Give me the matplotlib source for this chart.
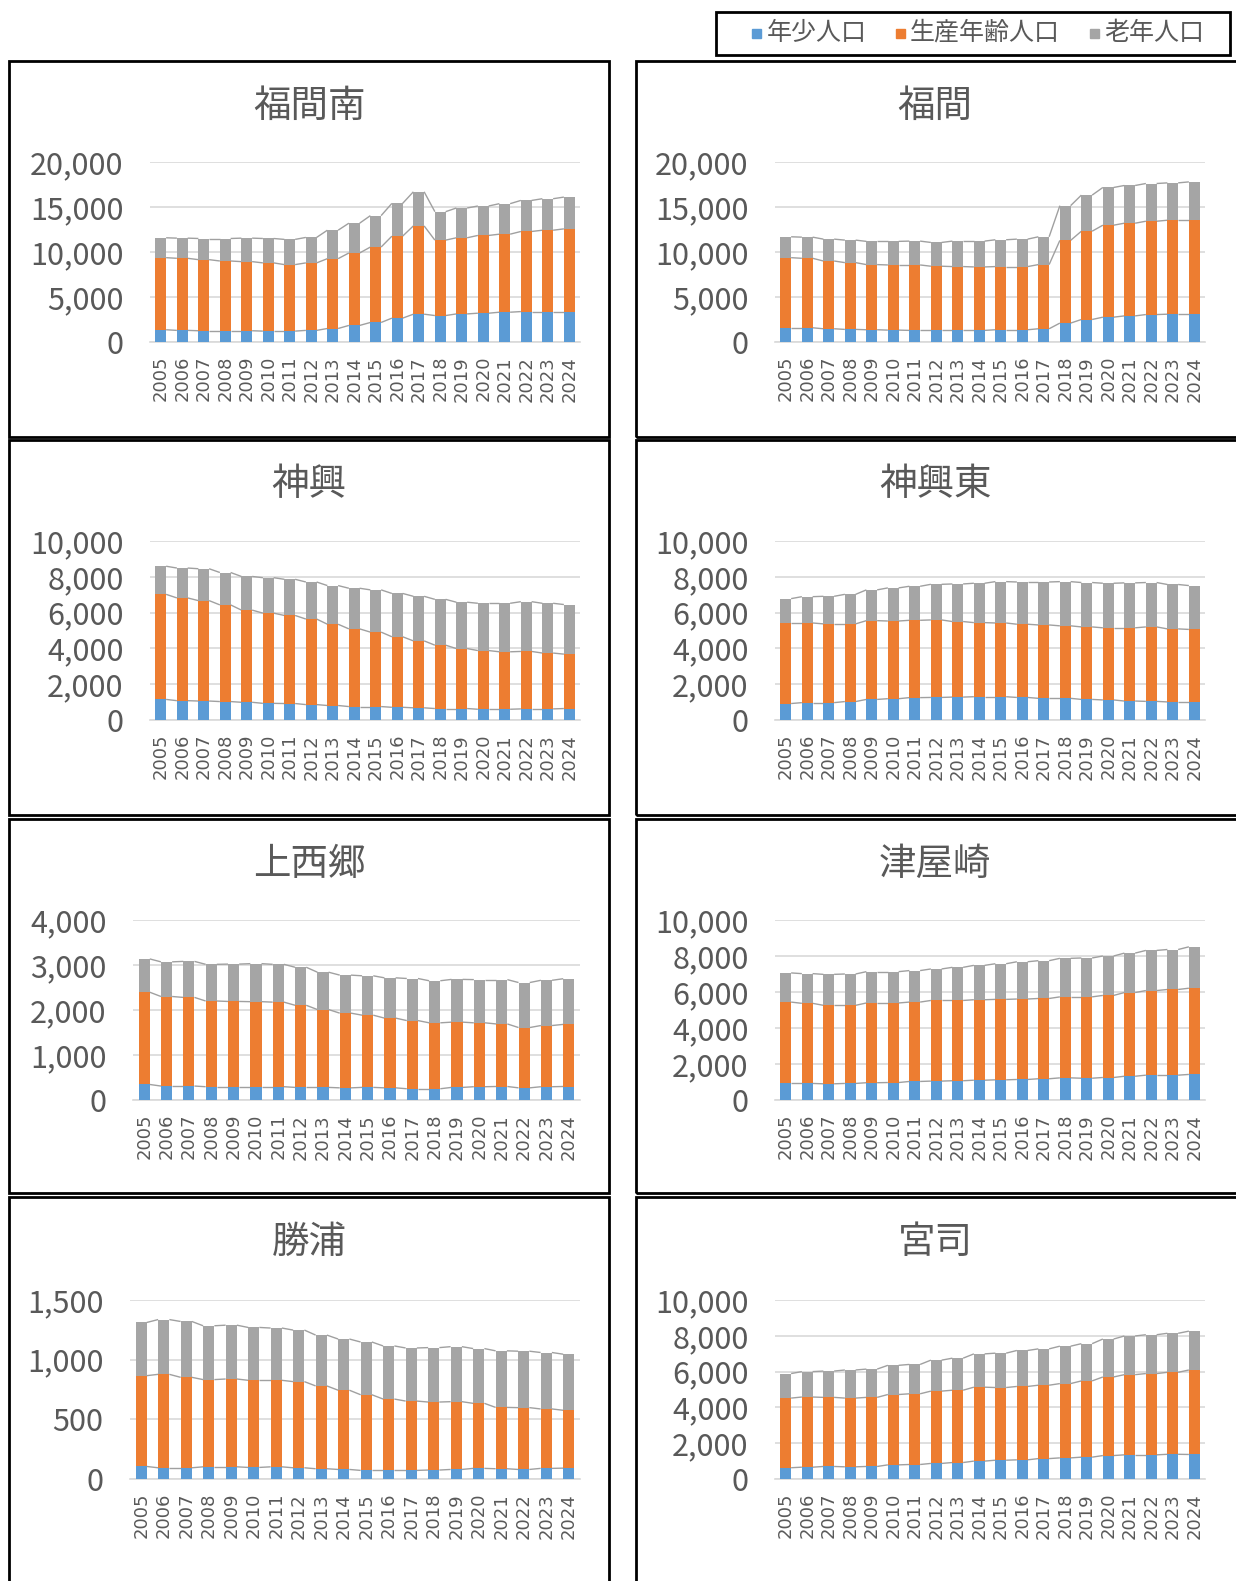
import matplotlib
matplotlib.use("Agg")
import matplotlib.pyplot as plt
from matplotlib.patches import Rectangle
from matplotlib.ticker import FuncFormatter, MultipleLocator
import numpy as np

plt.rcParams['font.family'] = ['Noto Sans CJK JP', 'DejaVu Sans']

years = [str(y) for y in range(2005, 2025)]
series_names = ["年少人口", "生産年齢人口", "老年人口"]
colors = ["#5B9BD5", "#ED7D31", "#A5A5A5"]

# 福間南
fukumaminami_youth = [1360, 1290, 1250, 1250, 1250, 1210, 1210, 1290, 1500, 1840, 2170, 2650, 3090, 2940, 3120, 3200, 3310, 3380, 3380, 3380]
fukumaminami_working = [8010, 8010, 7900, 7750, 7680, 7580, 7390, 7500, 7760, 8050, 8380, 9110, 9810, 8380, 8460, 8640, 8670, 8900, 9040, 9190]
fukumaminami_elderly = [2210, 2240, 2350, 2500, 2610, 2710, 2800, 2830, 3160, 3310, 3490, 3640, 3790, 3160, 3310, 3270, 3390, 3450, 3500, 3530]
# 福間
fukuma_youth = [1580, 1580, 1470, 1400, 1360, 1320, 1290, 1290, 1290, 1290, 1360, 1360, 1470, 2100, 2500, 2760, 2900, 3050, 3090, 3090]
fukuma_working = [7790, 7720, 7530, 7420, 7240, 7240, 7270, 7130, 7090, 7050, 7020, 7020, 7130, 9190, 9810, 10220, 10300, 10370, 10440, 10440]
fukuma_elderly = [2320, 2350, 2430, 2500, 2580, 2620, 2650, 2640, 2830, 2870, 2980, 3050, 3090, 3860, 4010, 4190, 4190, 4190, 4150, 4260]
# 神興
jinko_youth = [1150, 1080, 1060, 1030, 990, 930, 920, 860, 810, 750, 750, 710, 680, 640, 640, 600, 600, 620, 620, 640]
jinko_working = [5870, 5740, 5610, 5400, 5150, 5040, 4920, 4780, 4540, 4340, 4160, 3940, 3740, 3540, 3350, 3280, 3210, 3210, 3120, 3040]
jinko_elderly = [1570, 1670, 1780, 1810, 1880, 1980, 2020, 2070, 2160, 2270, 2360, 2420, 2490, 2560, 2590, 2640, 2710, 2780, 2780, 2770]
# 神興東
jinkohigashi_youth = [920, 970, 970, 1030, 1150, 1190, 1250, 1260, 1280, 1300, 1300, 1260, 1210, 1210, 1150, 1120, 1060, 1040, 1010, 1010]
jinkohigashi_working = [4500, 4450, 4400, 4340, 4400, 4340, 4320, 4330, 4220, 4140, 4120, 4090, 4100, 4050, 4050, 4030, 4090, 4160, 4080, 4050]
jinkohigashi_elderly = [1360, 1470, 1540, 1650, 1720, 1850, 1900, 1990, 2100, 2200, 2310, 2360, 2400, 2470, 2480, 2490, 2510, 2480, 2480, 2450]
# 上西郷
kamisaigo_youth = [345, 310, 310, 295, 295, 295, 295, 280, 280, 270, 280, 270, 250, 250, 280, 295, 300, 270, 295, 300]
kamisaigo_working = [2050, 1990, 1970, 1905, 1895, 1890, 1880, 1825, 1730, 1660, 1605, 1550, 1515, 1465, 1450, 1420, 1390, 1340, 1360, 1380]
kamisaigo_elderly = [740, 770, 800, 815, 830, 845, 840, 845, 830, 845, 875, 895, 935, 935, 950, 960, 985, 1000, 1005, 1015]
# 津屋崎
tsuyazaki_youth = [920, 920, 900, 920, 960, 970, 1030, 1050, 1070, 1100, 1120, 1140, 1180, 1230, 1210, 1250, 1320, 1380, 1380, 1420]
tsuyazaki_working = [4520, 4450, 4360, 4340, 4430, 4420, 4410, 4480, 4460, 4470, 4470, 4470, 4460, 4500, 4520, 4560, 4650, 4700, 4760, 4790]
tsuyazaki_elderly = [1620, 1650, 1720, 1740, 1740, 1740, 1750, 1750, 1840, 1910, 1980, 2070, 2100, 2140, 2160, 2190, 2190, 2230, 2220, 2300]
# 勝浦
katsuura_youth = [105, 94, 94, 102, 102, 97, 102, 94, 86, 80, 72, 72, 72, 75, 80, 89, 86, 80, 89, 91]
katsuura_working = [761, 783, 758, 731, 736, 730, 725, 722, 694, 664, 634, 598, 581, 570, 568, 545, 514, 518, 498, 485]
katsuura_elderly = [446, 459, 468, 451, 451, 443, 438, 432, 426, 429, 442, 445, 445, 456, 461, 459, 474, 473, 473, 470]
# 宮司
miyaji_youth = [630, 660, 700, 680, 700, 790, 810, 870, 920, 1000, 1050, 1070, 1140, 1180, 1220, 1310, 1350, 1350, 1380, 1370]
miyaji_working = [3890, 3920, 3860, 3840, 3860, 3930, 3950, 4040, 4040, 4130, 4060, 4100, 4100, 4150, 4260, 4390, 4480, 4540, 4580, 4720]
miyaji_elderly = [1370, 1420, 1470, 1570, 1580, 1630, 1640, 1730, 1790, 1860, 1920, 2010, 2030, 2090, 2080, 2120, 2160, 2170, 2180, 2170]

panels = [
    ("福間南", fukumaminami_youth, fukumaminami_working, fukumaminami_elderly, 20000, 5000),
    ("福間", fukuma_youth, fukuma_working, fukuma_elderly, 20000, 5000),
    ("神興", jinko_youth, jinko_working, jinko_elderly, 10000, 2000),
    ("神興東", jinkohigashi_youth, jinkohigashi_working, jinkohigashi_elderly, 10000, 2000),
    ("上西郷", kamisaigo_youth, kamisaigo_working, kamisaigo_elderly, 4000, 1000),
    ("津屋崎", tsuyazaki_youth, tsuyazaki_working, tsuyazaki_elderly, 10000, 2000),
    ("勝浦", katsuura_youth, katsuura_working, katsuura_elderly, 1500, 500),
    ("宮司", miyaji_youth, miyaji_working, miyaji_elderly, 10000, 2000),
]

W, H = 1236, 1581
fig = plt.figure(figsize=(W / 100, H / 100), dpi=100)
fig.patch.set_facecolor("white")

def fx(x):
    return x / W

def fy(y):
    return 1 - y / H

# layout (pixels)
box_x = [(9, 609), (636, 1240)]
box_y = [(61, 437), (440, 815), (819, 1193), (1197, 1590)]
plot_x = [(150, 580), (775, 1205)]
plot_y = [(162, 342), (541, 720), (920, 1100), (1300, 1479)]
plot_x_override = {4: (133, 580), 6: (130, 580)}
title_cx = [309, 935]

label_color = "#595959"
bar_w = 0.5

for idx, (name, youth, working, elderly, ymax, ystep) in enumerate(panels):
    row, col = divmod(idx, 2)
    bx0, bx1 = box_x[col]
    by0, by1 = box_y[row]
    fig.patches.append(Rectangle((fx(bx0), fy(by1)), fx(bx1 - bx0), (by1 - by0) / H,
                                 transform=fig.transFigure, fill=False,
                                 edgecolor="black", linewidth=2.0, zorder=5))
    fig.text(fx(title_cx[col]), fy(by0 + 45), name,
             ha="center", va="center", fontsize=27, color=label_color)

    px0, px1 = plot_x_override.get(idx, plot_x[col])
    py0, py1 = plot_y[row]
    ax = fig.add_axes([fx(px0), fy(py1), fx(px1 - px0), (py1 - py0) / H])
    x = np.arange(len(years))
    y = np.array(youth, float)
    w = np.array(working, float)
    e = np.array(elderly, float)
    bottoms = [np.zeros_like(y), y, y + w]
    vals = [y, w, e]
    for k in range(3):
        ax.bar(x, vals[k], bar_w, bottom=bottoms[k], color=colors[k], zorder=3,
               label=series_names[k])
    tops = [y, y + w, y + w + e]
    for t in tops:
        for i in range(len(x) - 1):
            ax.plot([x[i] + bar_w / 2, x[i + 1] - bar_w / 2], [t[i], t[i + 1]],
                    color="#A0A0A0", lw=1.0, zorder=2, solid_capstyle="butt")
    ax.set_xlim(-0.5, len(years) - 0.5)
    ax.set_ylim(0, ymax)
    ax.yaxis.set_major_locator(MultipleLocator(ystep))
    ax.yaxis.set_major_formatter(FuncFormatter(lambda v, p: f"{int(round(v)):,}"))
    ax.grid(axis="y", color="#D9D9D9", lw=1.2, zorder=0)
    ax.set_axisbelow(True)
    for s in ["top", "right", "left"]:
        ax.spines[s].set_visible(False)
    ax.spines["bottom"].set_color("#D9D9D9")
    ax.spines["bottom"].set_linewidth(1.2)
    ax.set_xticks(x)
    ax.set_xticklabels(years, rotation=90, fontsize=13, color=label_color,
                       family="DejaVu Sans")
    ax.tick_params(axis="x", length=0, pad=10)
    ax.tick_params(axis="y", length=0, pad=19, labelsize=22, labelcolor=label_color)
    ax.set_facecolor("none")

# legend box
fig.patches.append(Rectangle((fx(716), fy(55)), fx(1230 - 716), 43 / H,
                             transform=fig.transFigure, fill=False,
                             edgecolor="black", linewidth=2.0))
leg_items = [(752, 767), (896, 910), (1090, 1104)]
for (sq_x, tx), nm, c in zip(leg_items, series_names, colors):
    fig.patches.append(Rectangle((fx(sq_x), fy(38)), fx(9), 9 / H,
                                 transform=fig.transFigure, color=c))
    fig.text(fx(tx), fy(33), nm, ha="left", va="center", fontsize=18, color=label_color)

fig.savefig("out.png", dpi=100)
